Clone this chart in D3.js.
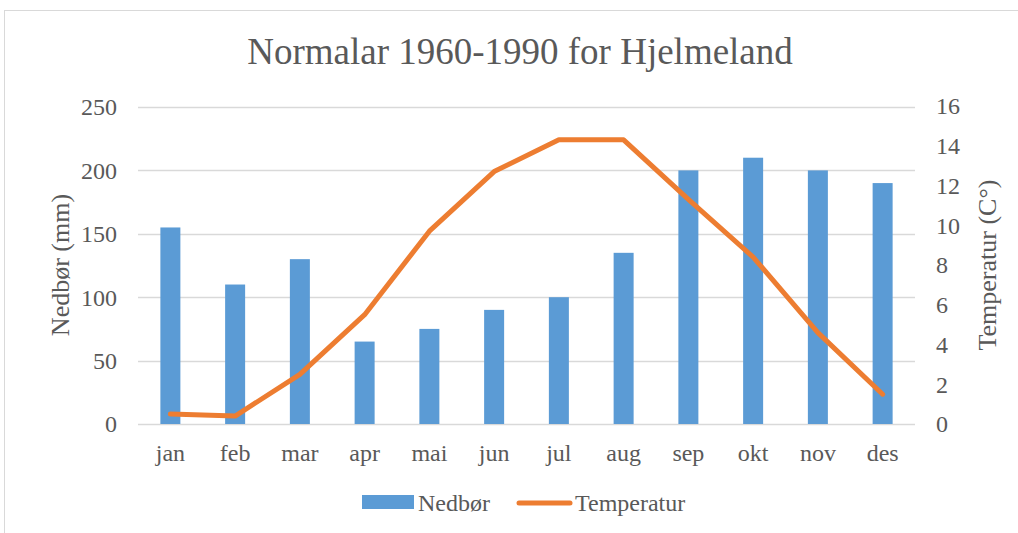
<!DOCTYPE html>
<html>
<head>
<meta charset="utf-8">
<script src="https://cdn.jsdelivr.net/npm/d3@7"></script>
<style>
  body { margin: 0; background: #fff; }
  svg text { font-family: "Liberation Serif", "Times New Roman", serif; fill: #595959; }
</style>
</head>
<body>
<svg id="chart"></svg>
<script>
let months = ["jan", "feb", "mar", "apr", "mai", "jun", "jul", "aug", "sep", "okt", "nov", "des"];
let nedbor = [155, 110, 130, 65, 75, 90, 100, 135, 200, 210, 200, 190];
let temperatur = [0.5, 0.4, 2.5, 5.5, 9.7, 12.7, 14.3, 14.3, 11.3, 8.4, 4.6, 1.5];
let leftTicks = [0, 50, 100, 150, 200, 250];
let rightTicks = [0, 2, 4, 6, 8, 10, 12, 14, 16];

let width = 1018;
let height = 533;
let plot = { left: 138, right: 915, top: 107, bottom: 424 };

let svg = d3.select("#chart")
    .attr("width", width)
    .attr("height", height);

// chart frame
svg.append("rect")
    .attr("x", 4.5).attr("y", 10.5)
    .attr("width", 1030).attr("height", 540)
    .attr("fill", "none")
    .attr("stroke", "#d9d9d9");

let x = d3.scaleBand()
    .domain(months)
    .range([plot.left, plot.right]);

let yLeft = d3.scaleLinear()
    .domain([0, 250])
    .range([plot.bottom, plot.top]);

let yRight = d3.scaleLinear()
    .domain([0, 16])
    .range([plot.bottom, plot.top - 1]);

// gridlines
svg.append("g")
    .selectAll("line")
    .data(leftTicks)
    .enter()
    .append("line")
        .attr("x1", plot.left)
        .attr("x2", plot.right)
        .attr("y1", d => Math.round(yLeft(d)) + 0.5)
        .attr("y2", d => Math.round(yLeft(d)) + 0.5)
        .attr("stroke", "#d9d9d9")
        .attr("stroke-width", 1.5);

// left axis labels
let leftAxis = svg.append("g")
    .attr("transform", `translate(${plot.left - 21},0)`)
    .call(d3.axisLeft(yLeft).tickValues(leftTicks).tickSize(0).tickPadding(0));
leftAxis.select(".domain").remove();
leftAxis.selectAll("text")
    .attr("font-size", 24)
    .attr("dy", "0.33em");

// right axis labels
let rightAxis = svg.append("g")
    .attr("transform", `translate(${plot.right + 21},0)`)
    .call(d3.axisRight(yRight).tickValues(rightTicks).tickSize(0).tickPadding(0));
rightAxis.select(".domain").remove();
rightAxis.selectAll("text")
    .attr("font-size", 24)
    .attr("dy", "0.33em");

// x axis labels
let xAxis = svg.append("g")
    .attr("transform", `translate(0,${plot.bottom + 37})`)
    .call(d3.axisBottom(x).tickSize(0).tickPadding(0));
xAxis.select(".domain").remove();
xAxis.selectAll("text")
    .attr("font-size", 24)
    .attr("dy", 0);

// bars
let barWidth = 20;
svg.append("g")
    .selectAll("rect")
    .data(nedbor)
    .enter()
    .append("rect")
        .attr("x", (d, i) => x(months[i]) + x.bandwidth() / 2 - barWidth / 2)
        .attr("y", d => yLeft(d))
        .attr("width", barWidth)
        .attr("height", d => yLeft(0) - yLeft(d))
        .attr("fill", "#5b9bd5");

// temperature line
let line = d3.line()
    .x((d, i) => x(months[i]) + x.bandwidth() / 2)
    .y(d => yRight(d));

svg.append("path")
    .datum(temperatur)
    .attr("d", line)
    .attr("fill", "none")
    .attr("stroke", "#ed7d31")
    .attr("stroke-width", 5)
    .attr("stroke-linejoin", "round")
    .attr("stroke-linecap", "round");

// title
svg.append("text")
    .attr("x", 520)
    .attr("y", 64)
    .attr("text-anchor", "middle")
    .attr("font-size", 37)
    .text("Normalar 1960-1990 for Hjelmeland");

// axis titles
svg.append("text")
    .attr("transform", "translate(69,265) rotate(-90)")
    .attr("text-anchor", "middle")
    .attr("font-size", 26)
    .text("Nedbør (mm)");

svg.append("text")
    .attr("transform", "translate(996,265) rotate(-90)")
    .attr("text-anchor", "middle")
    .attr("font-size", 26)
    .text("Temperatur (C°)");

// legend
let legend = svg.append("g");
legend.append("rect")
    .attr("x", 362).attr("y", 495)
    .attr("width", 52).attr("height", 14)
    .attr("fill", "#5b9bd5");
legend.append("text")
    .attr("x", 418).attr("y", 511)
    .attr("font-size", 24)
    .text("Nedbør");
legend.append("line")
    .attr("x1", 519).attr("x2", 570)
    .attr("y1", 503).attr("y2", 503)
    .attr("stroke", "#ed7d31")
    .attr("stroke-width", 5)
    .attr("stroke-linecap", "round");
legend.append("text")
    .attr("x", 575).attr("y", 511)
    .attr("font-size", 24)
    .text("Temperatur");
</script>
</body>
</html>
